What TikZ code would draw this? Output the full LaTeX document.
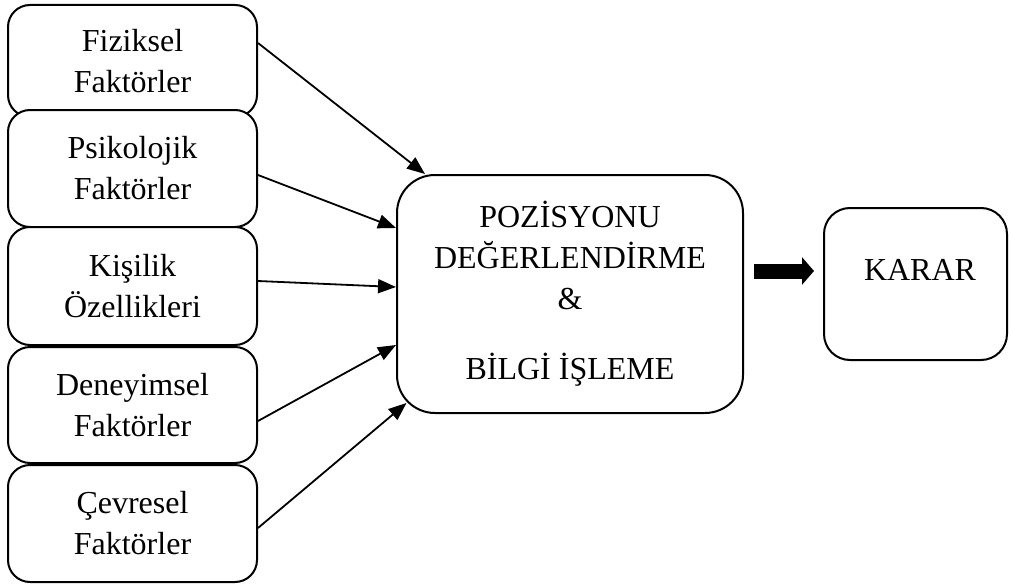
\documentclass[tikz,border=0pt]{standalone}
\usepackage{fontspec}
\setmainfont{Liberation Serif}
\usetikzlibrary{arrows.meta}
\begin{document}
\begin{tikzpicture}[x=1pt,y=-1pt,
  factorbox/.style={draw, line width=2pt, fill=white, rounded corners=22pt,
    minimum width=249pt, align=center, inner sep=0pt,
    font=\fontsize{32}{41}\selectfont},
  bigbox/.style={draw, line width=2pt, fill=white, rounded corners=38pt,
    minimum width=346pt, minimum height=238pt, align=center, inner sep=0pt,
    font=\fontsize{32}{41}\selectfont},
  resultbox/.style={draw, line width=2pt, fill=white, rounded corners=26pt,
    minimum width=183pt, minimum height=152pt, inner sep=0pt},
  txt/.style={font=\fontsize{32}{41}\selectfont, inner sep=0pt},
  link/.style={line width=1.8pt, -{Triangle[length=18pt,width=14pt]}},
  bigarrow/.style={line width=15pt, -{Triangle[length=12pt,width=27pt]}}
]
\useasboundingbox (0,0) rectangle (1009,586);

\node[factorbox, minimum height=112pt] (f1) at (132.5,61) {Fiziksel\\Faktörler};
\node[factorbox, minimum height=117pt] (f2) at (132.5,168.5) {Psikolojik\\Faktörler};
\node[factorbox, minimum height=118pt] (f3) at (132.5,286) {Kişilik\\Özellikleri};
\node[factorbox, minimum height=116pt] (f4) at (132.5,405) {Deneyimsel\\Faktörler};
\node[factorbox, minimum height=117pt] (f5) at (132.5,523.5) {Çevresel\\Faktörler};

\node[bigbox] (pos) at (570,294) {POZİSYONU\\DEĞERLENDİRME\\\&\\[29pt]BİLGİ İŞLEME};

\node[resultbox] (karar) at (915.5,284) {};
\node[txt, anchor=base] (kt) at (920,280) {KARAR};

\draw[link] ([yshift=18pt]f1.east) -- ([xshift=-145pt]pos.north);
\draw[link] ([yshift=-6.5pt]f2.east) -- ([yshift=66pt]pos.west);
\draw[link] ([yshift=5pt]f3.east) -- ([yshift=7pt]pos.west);
\draw[link] ([yshift=-16pt]f4.east) -- ([yshift=-51pt]pos.west);
\draw[link] ([yshift=-4.5pt]f5.east) -- ([xshift=10.5pt,yshift=11pt]pos.south west);

\coordinate (ta) at (754,271);
\coordinate (tb) at (814,271);
\draw[bigarrow] (ta) -- (tb);
\end{tikzpicture}
\end{document}
